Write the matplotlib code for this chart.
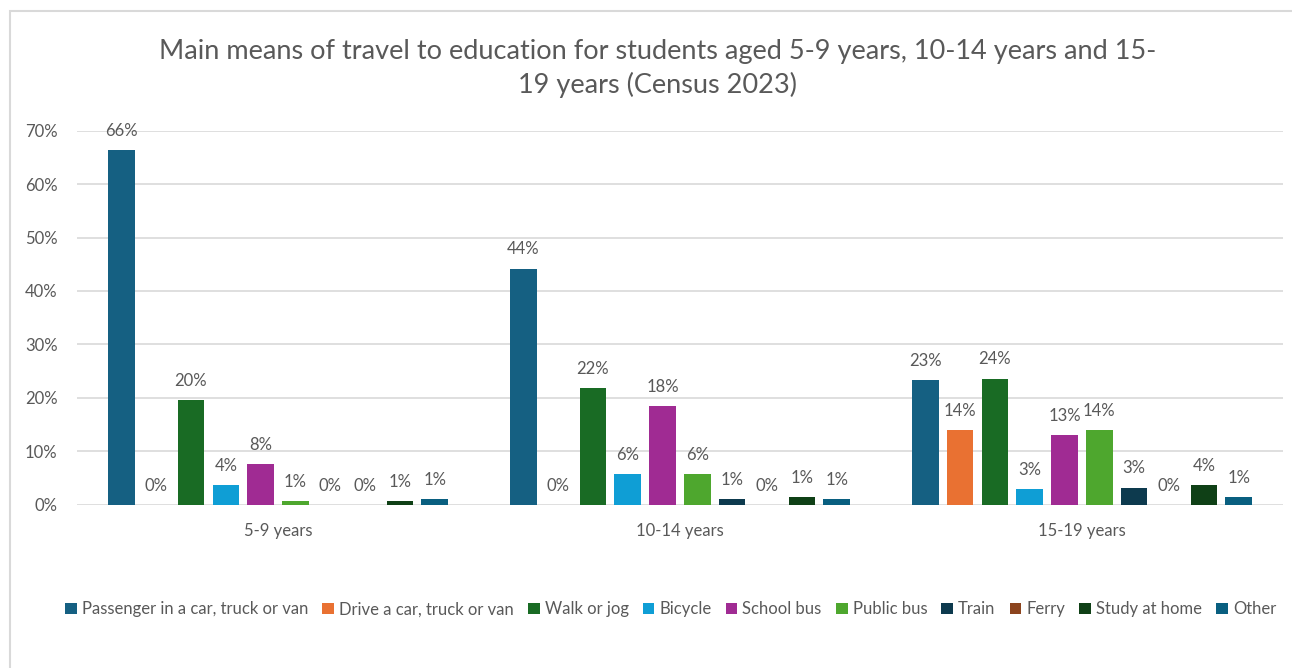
import matplotlib.pyplot as plt
import numpy as np
from matplotlib.patches import Rectangle

plt.rcParams['font.family'] = ['Lato', 'DejaVu Sans']

groups = ['5-9 years', '10-14 years', '15-19 years']
modes = ['Passenger in a car, truck or van', 'Drive a car, truck or van', 'Walk or jog',
         'Bicycle', 'School bus', 'Public bus', 'Train', 'Ferry', 'Study at home', 'Other']
colors = ['#156082', '#E97132', '#196B24', '#0F9ED5', '#A02B93', '#4EA72E',
          '#0D3A4E', '#8C441E', '#0F4016', '#095F80']

# percent per mode, one value per age group
passenger = [66.4, 44.2, 23.3]
drive = [0.0, 0.0, 14.0]
walk = [19.6, 21.9, 23.6]
bicycle = [3.6, 5.7, 2.9]
school_bus = [7.6, 18.4, 13.1]
public_bus = [0.6, 5.7, 14.0]
train = [0.0, 1.1, 3.2]
ferry = [0.0, 0.0, 0.0]
study_home = [0.7, 1.4, 3.6]
other = [1.1, 1.1, 1.4]
series = [passenger, drive, walk, bicycle, school_bus, public_bus, train, ferry, study_home, other]

txt = '#595959'
fig = plt.figure(figsize=(12.92, 6.68), dpi=100)
ax = fig.add_axes([0.0596, 0.2445, 0.9334, 0.5598])

x = np.arange(len(groups))
step = 0.0866
w = 0.066
for i, (name, vals, c) in enumerate(zip(modes, series, colors)):
    pos = x + (i - 4.5) * step
    bars = ax.bar(pos, vals, w, color=c, label=name, zorder=3)
    for b, v in zip(bars, vals):
        ax.annotate(f'{v:.0f}%', (b.get_x() + b.get_width() / 2, v),
                    xytext=(0, 8), textcoords='offset points',
                    ha='center', va='bottom', fontsize=12, color=txt)

ax.set_xlim(-0.5, 2.5)
ax.set_ylim(0, 70)
ax.set_yticks(np.arange(0, 71, 10))
ax.set_yticklabels([f'{t}%' for t in range(0, 71, 10)])
ax.set_xticks(x)
ax.set_xticklabels(groups)
ax.tick_params(length=0, labelsize=12, colors=txt)
ax.tick_params(axis='y', pad=14)
ax.tick_params(axis='x', pad=13)
ax.grid(axis='y', color='#D9D9D9', lw=1.2, zorder=0)
for s in ax.spines.values():
    s.set_visible(False)

fig.text(0.509, 0.8975, 'Main means of travel to education for students aged 5-9 years, 10-14 years and 15-\n19 years (Census 2023)',
         ha='center', va='center', fontsize=19.5, color=txt, linespacing=1.4)

fig.legend(loc='center', bbox_to_anchor=(0.519, 0.088), ncol=10, frameon=False,
           fontsize=12, handlelength=0.7, handleheight=0.7, handletextpad=0.3,
           columnspacing=0.85, labelcolor=txt)

fig.patches.append(Rectangle((9.5 / 1292, -0.1), 1.2, 1.1 - 11.5 / 668,
                             transform=fig.transFigure, fill=False,
                             edgecolor='#D9D9D9', lw=1.5))

plt.savefig('out.png')
